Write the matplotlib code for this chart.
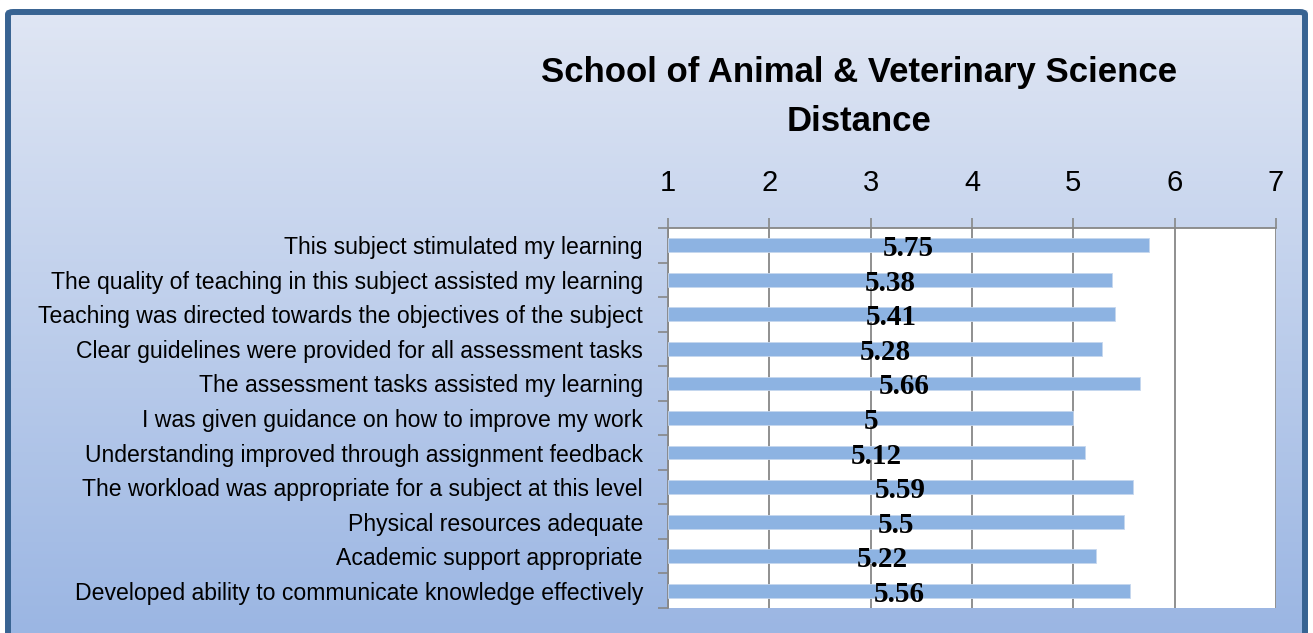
#!/usr/bin/env python3
"""School of Animal & Veterinary Science - Distance: mean item scores."""

import matplotlib.pyplot as plt
import numpy as np
from matplotlib.patches import FancyBboxPatch

ITEMS = [
    "This subject stimulated my learning",
    "The quality of teaching in this subject assisted my learning",
    "Teaching was directed towards the objectives of the subject",
    "Clear guidelines were provided for all assessment tasks",
    "The assessment tasks assisted my learning",
    "I was given guidance on how to improve my work",
    "Understanding improved through assignment feedback",
    "The workload was appropriate for a subject at this level",
    "Physical resources adequate",
    "Academic support appropriate",
    "Developed ability to communicate knowledge effectively",
]
SCORES = [5.75, 5.38, 5.41, 5.28, 5.66, 5, 5.12, 5.59, 5.5, 5.22, 5.56]
SCORE_LABELS = ["5.75", "5.38", "5.41", "5.28", "5.66", "5", "5.12", "5.59", "5.5", "5.22", "5.56"]
X_TICKS = [1, 2, 3, 4, 5, 6, 7]

W, H = 1313, 633
SANS = ["Liberation Sans", "DejaVu Sans"]
SERIF = ["Liberation Serif", "DejaVu Serif"]

fig = plt.figure(figsize=(W / 100, H / 100), dpi=100)
fig.patch.set_facecolor("white")

# gradient background panel
bg = fig.add_axes([0, 0, 1, 1], zorder=-10)
grad = np.linspace(0, 1, 256).reshape(-1, 1)
top = np.array([0xE1, 0xE7, 0xF4]) / 255
bot = np.array([0x9B, 0xB6, 0xE3]) / 255
img = top + (bot - top) * grad[..., None]
bg.imshow(img, aspect="auto", extent=[0, 1, 0, 1], origin="upper")
bg.set_xlim(0, 1)
bg.set_ylim(0, 1)
bg.axis("off")
# white margin outside the frame
bg.add_patch(plt.Rectangle((0, 1 - 9 / H), 1, 9 / H, color="white", zorder=2))
bg.add_patch(plt.Rectangle((0, 0), 5 / W, 1, color="white", zorder=2))
bg.add_patch(plt.Rectangle((1 - 5 / W, 0), 5 / W, 1, color="white", zorder=2))
frame = FancyBboxPatch((8 / W, -0.05), (1305 - 8) / W, 1 - 12 / H + 0.05,
                       boxstyle="round,pad=0,rounding_size=0.004",
                       facecolor="none", edgecolor="#386392", linewidth=4.3, zorder=3)
bg.add_patch(frame)

# main plot area
left, right = 668 / W, 1276 / W
bottom, topy = 1 - 608 / H, 1 - 228 / H
ax = fig.add_axes([left, bottom, right - left, topy - bottom])
ax.set_facecolor("white")

y = np.arange(len(ITEMS))
ax.barh(y, [s - 1 for s in SCORES], left=1, height=0.4, color="#8DB3E2",
        edgecolor="#C6D7EE", linewidth=0.6, zorder=3)
for yi, s, lab in zip(y, SCORES, SCORE_LABELS):
    ax.text((1 + s) / 2, yi + 0.1, lab, ha="center", va="center",
            family=SERIF, fontweight="bold", fontsize=21, color="black", zorder=4)

ax.set_xlim(1, 7)
ax.set_ylim(len(ITEMS) - 0.5, -0.5)
ax.xaxis.tick_top()
ax.set_xticks(X_TICKS)
ax.set_xticklabels([str(t) for t in X_TICKS], family=SANS, fontsize=21)
ax.tick_params(axis="x", direction="out", length=7.2, width=1.2, color="#878787", pad=15)
ax.grid(axis="x", color="#878787", linewidth=1.3, zorder=1)

ax.set_yticks(y)
ax.set_yticklabels(ITEMS, family=SANS, fontsize=16.6)
ax.set_yticks(np.arange(len(ITEMS) + 1) - 0.5, minor=True)
ax.tick_params(axis="y", which="major", length=0, pad=18)
ax.tick_params(axis="y", which="minor", direction="out", length=7.2, width=1.2, color="#878787")

for side in ["left", "top"]:
    ax.spines[side].set_color("#878787")
    ax.spines[side].set_linewidth(1.3)
ax.spines["right"].set_visible(False)
ax.spines["bottom"].set_visible(False)

fig.text((540 + 1178) / 2 / W, 1 - 97 / H, "School of Animal & Veterinary Science\nDistance",
         ha="center", va="center", family=SANS, fontweight="bold", fontsize=25,
         linespacing=1.6)

fig.savefig("out.png", dpi=100)
